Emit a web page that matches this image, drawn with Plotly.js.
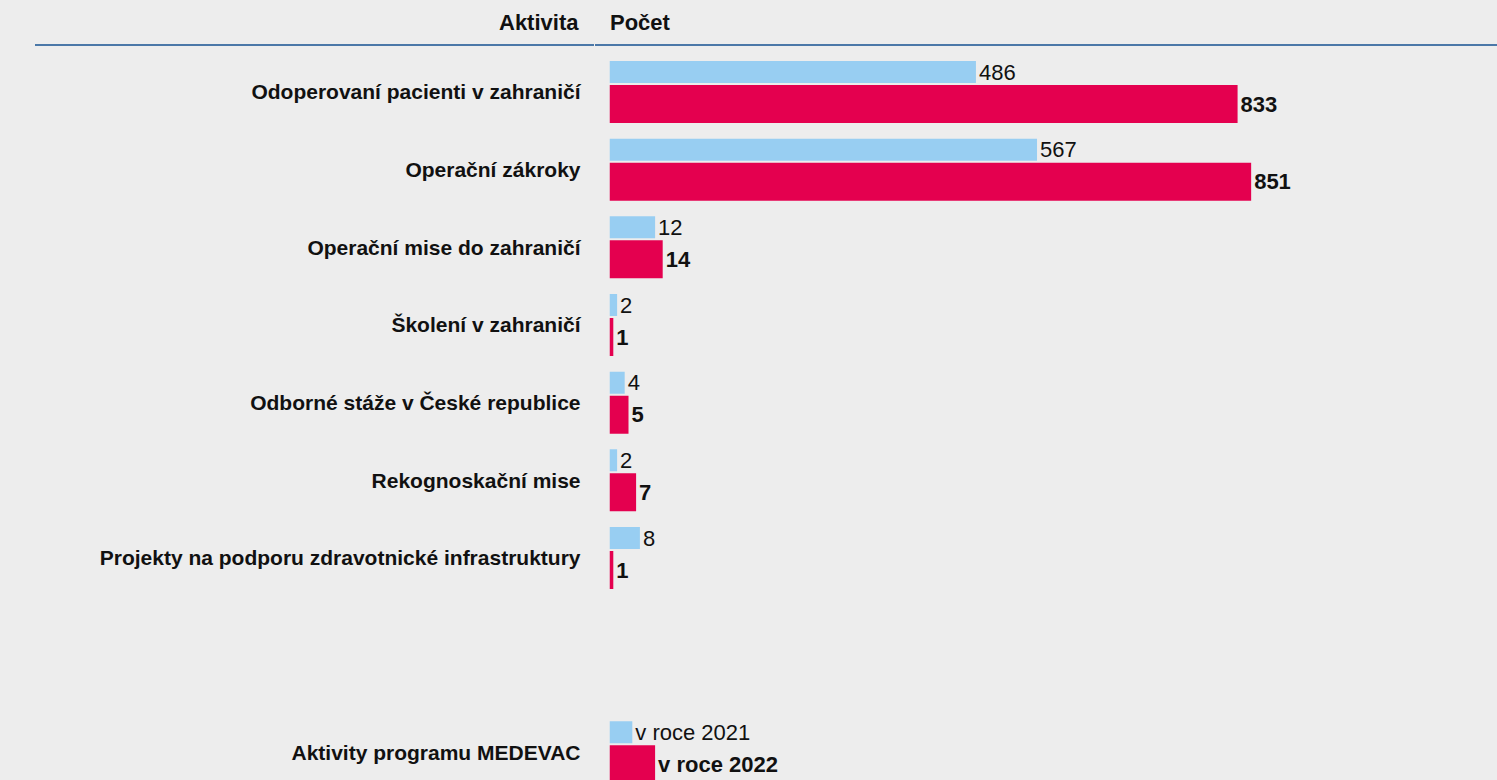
<!DOCTYPE html>
<html><head><meta charset="utf-8">
<script src="https://cdn.plot.ly/plotly-3.0.1.min.js"></script>
<style>html,body{margin:0;padding:0;background:#ededed;overflow:hidden}#chart{width:1497px;height:780px}</style>
</head><body><div id="chart"></div>
<script>
// ---- data ----
const categories = [
  "Odoperovaní pacienti v zahraničí",
  "Operační zákroky",
  "Operační mise do zahraničí",
  "Školení v zahraničí",
  "Odborné stáže v České republice",
  "Rekognoskační mise",
  "Projekty na podporu zdravotnické infrastruktury"
];
const values2021 = [486, 567, 12, 2, 4, 2, 8];
const values2022 = [833, 851, 14, 1, 5, 7, 1];
const seriesNames = ["v roce 2021", "v roce 2022"];
const legendTitle = "Aktivity programu MEDEVAC";
const headerLabels = ["Aktivita", "Počet"];

// ---- styling / geometry ----
const W = 1497, H = 780;
const FONT = "Liberation Sans, Arial, sans-serif";
const BLUE = "#98cef2", RED = "#e4004f", INK = "#111111";
const LABEL_SIZE = 21, VALUE_SIZE = 22, HEADER_SIZE = 22;
const barStartPx = 609.5;
const pxPerUnitLarge = 0.754, pxPerUnitSmall = 3.8;  // the source draws small rows on a magnified scale
const largeThreshold = 100;
const rowPitchPx = 77.67, firstRowCenterPx = 92;
const swatchLen = [6, 12]; // legend swatch lengths, small scale units

const rowIdx = categories.map((_, i) => i);
const isLarge = rowIdx.map(i => Math.max(values2021[i], values2022[i]) > largeThreshold);
const pick = (arr, large) => rowIdx.filter(i => isLarge[i] === large).map(i => arr[i]);
const legendY = categories.length + 1.5;

const blueSpec = {width: 0.283, offset: -0.399};
const redSpec  = {width: 0.489, offset: -0.090};

function barTrace(xs, ys, color, spec, axis, bold, texts) {
  return {
    type: "bar", orientation: "h",
    x: xs, y: ys, xaxis: axis, yaxis: "y",
    width: ys.map(() => spec.width), offset: ys.map(() => spec.offset),
    marker: {color: color, line: {width: 0}},
    text: texts || xs.map(String),
    textposition: "outside", cliponaxis: false, constraintext: "none",
    textfont: {family: FONT, size: VALUE_SIZE, color: INK, weight: bold ? 700 : 400},
    hoverinfo: "skip", showlegend: false
  };
}

const traces = [];
[true, false].forEach(large => {
  const ax = large ? "x" : "x2";
  const ys = rowIdx.filter(i => isLarge[i] === large);
  traces.push(barTrace(pick(values2021, large), ys, BLUE, blueSpec, ax, false));
  traces.push(barTrace(pick(values2022, large), ys, RED, redSpec, ax, true));
});
traces.push(barTrace([swatchLen[0]], [legendY], BLUE, blueSpec, "x2", false, [seriesNames[0]]));
traces.push(barTrace([swatchLen[1]], [legendY], RED, redSpec, "x2", true, [seriesNames[1]]));

const domStart = barStartPx / W;
const plotW = W - barStartPx;
const yTop = (0 - firstRowCenterPx) / rowPitchPx;
const yBot = (H - firstRowCenterPx) / rowPitchPx;

const lineY = 1 - 45 / H;
const layout = {
  width: W, height: H,
  margin: {l: 0, r: 0, t: 0, b: 0, pad: 0},
  paper_bgcolor: "#ededed", plot_bgcolor: "#ededed",
  barmode: "overlay",
  font: {family: FONT, size: LABEL_SIZE, color: INK},
  xaxis: {domain: [domStart, 1], range: [0, plotW / pxPerUnitLarge], visible: false, fixedrange: true},
  xaxis2: {overlaying: "x", range: [0, plotW / pxPerUnitSmall], visible: false, fixedrange: true},
  yaxis: {
    range: [yBot, yTop], anchor: "x",
    tickvals: rowIdx.concat([legendY]),
    ticktext: categories.concat([legendTitle]),
    tickfont: {family: FONT, size: LABEL_SIZE, color: INK, weight: 700},
    ticks: "", ticklabelstandoff: 28,
    showgrid: false, zeroline: false, showline: false, fixedrange: true
  },
  annotations: [
    {text: headerLabels[0], xref: "paper", yref: "paper", x: 581 / W, y: 1 - 22 / H,
     xanchor: "right", yanchor: "middle", showarrow: false,
     font: {family: FONT, size: HEADER_SIZE, color: INK, weight: 700}},
    {text: headerLabels[1], xref: "paper", yref: "paper", x: 608 / W, y: 1 - 22 / H,
     xanchor: "left", yanchor: "middle", showarrow: false,
     font: {family: FONT, size: HEADER_SIZE, color: INK, weight: 700}}
  ],
  shapes: [
    {type: "line", xref: "paper", yref: "paper", x0: 35 / W, x1: 594 / W, y0: lineY, y1: lineY,
     line: {color: "#4b78a8", width: 2}},
    {type: "line", xref: "paper", yref: "paper", x0: 595 / W, x1: 1, y0: lineY, y1: lineY,
     line: {color: "#4b78a8", width: 2}}
  ],
  showlegend: false
};

Plotly.newPlot("chart", traces, layout, {displayModeBar: false, staticPlot: true});
</script>
</body></html>
